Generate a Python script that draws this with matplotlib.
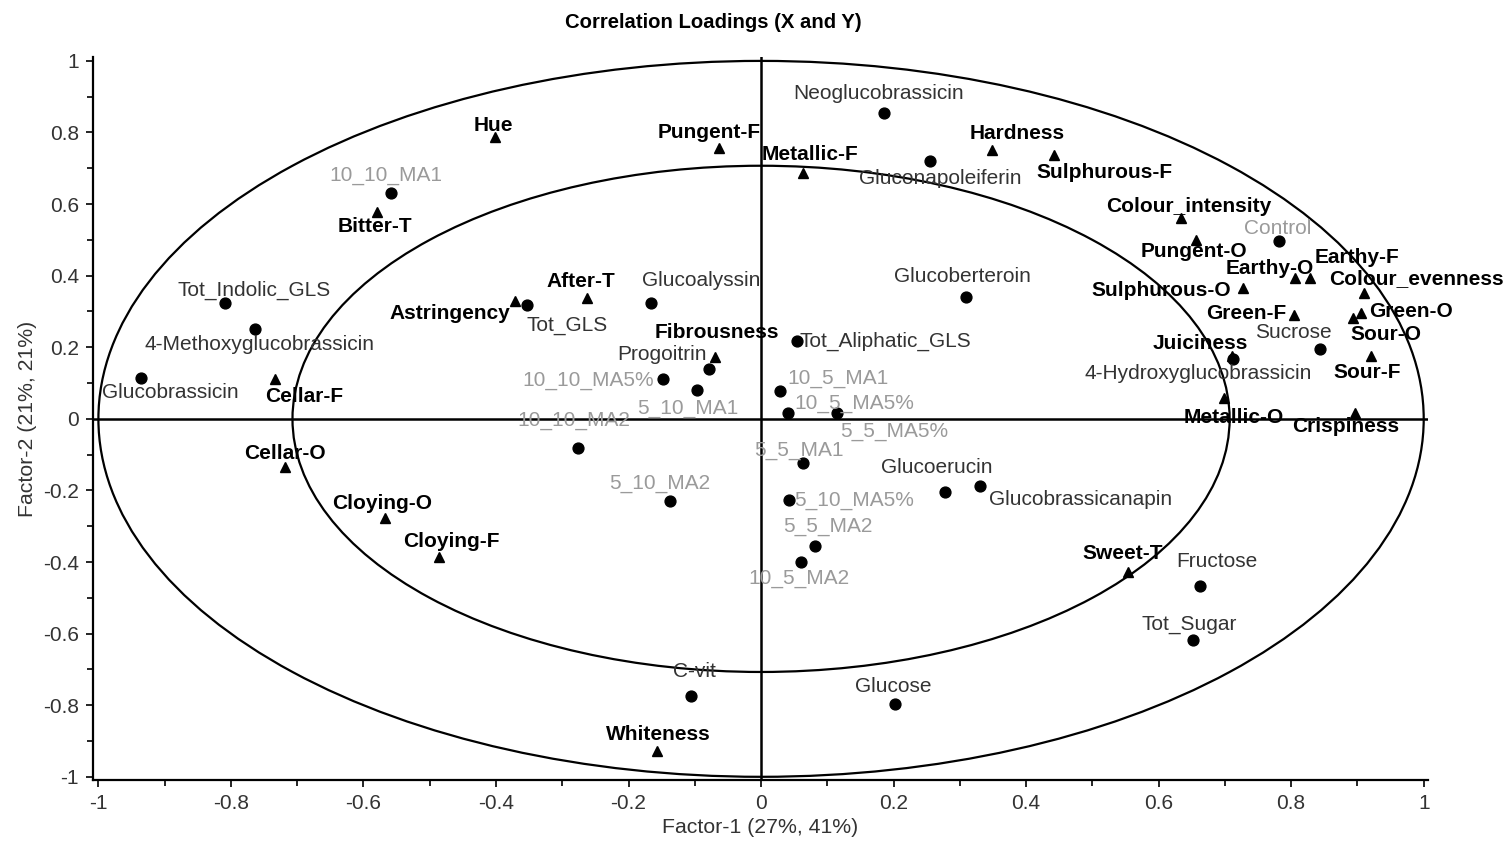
"""
Correlation loadings (X and Y): factor 1 vs factor 2.
"""

import matplotlib
matplotlib.use("Agg")
import matplotlib.pyplot as plt
from matplotlib.patches import Ellipse
from matplotlib.ticker import MultipleLocator, FuncFormatter
import numpy as np

plt.rcParams["font.family"] = ["Liberation Sans", "DejaVu Sans"]
plt.rcParams["axes.unicode_minus"] = False

# X variables (chemical) - circles
chem_names = [
    "Neoglucobrassicin", "Gluconapoleiferin", "Glucoberteroin", "Glucoalyssin",
    "Tot_GLS", "Tot_Indolic_GLS", "4-Methoxyglucobrassicin", "Glucobrassicin",
    "Progoitrin", "Tot_Aliphatic_GLS", "Glucoerucin", "Glucobrassicanapin",
    "C-vit", "Glucose", "Fructose", "Tot_Sugar", "Sucrose", "4-Hydroxyglucobrassicin",
]
chem_f1 = [0.185, 0.255, 0.309, -0.166, -0.353, -0.809, -0.764, -0.936,
           -0.078, 0.054, 0.277, 0.330, -0.105, 0.202, 0.662, 0.652, 0.843, 0.712]
chem_f2 = [0.855, 0.720, 0.340, 0.323, 0.318, 0.323, 0.250, 0.115,
           0.138, 0.218, -0.204, -0.188, -0.775, -0.797, -0.467, -0.618, 0.194, 0.167]

# samples - circles, grey labels
sample_names = [
    "10_10_MA1", "Control", "10_10_MA5%", "5_10_MA1", "10_10_MA2", "5_10_MA2",
    "10_5_MA1", "10_5_MA5%", "5_5_MA5%", "5_5_MA1", "5_10_MA5%", "5_5_MA2", "10_5_MA2",
]
sample_f1 = [-0.558, 0.782, -0.148, -0.097, -0.276, -0.138,
             0.029, 0.040, 0.114, 0.063, 0.042, 0.082, 0.061]
sample_f2 = [0.630, 0.497, 0.110, 0.082, -0.081, -0.230,
             0.079, 0.017, 0.017, -0.124, -0.227, -0.356, -0.399]

# Y variables (sensory) - triangles, bold labels
sens_names = [
    "Hue", "Bitter-T", "Cellar-F", "Astringency", "After-T", "Pungent-F",
    "Metallic-F", "Hardness", "Sulphurous-F", "Fibrousness", "Colour_intensity",
    "Pungent-O", "Earthy-O", "Earthy-F", "Colour_evenness", "Sulphurous-O",
    "Green-F", "Green-O", "Sour-O", "Sour-F", "Juiciness", "Metallic-O",
    "Crispiness", "Cellar-O", "Cloying-O", "Cloying-F", "Sweet-T", "Whiteness",
]
sens_f1 = [-0.402, -0.580, -0.734, -0.372, -0.262, -0.063,
           0.063, 0.348, 0.442, -0.069, 0.633,
           0.657, 0.806, 0.828, 0.910, 0.728,
           0.804, 0.905, 0.894, 0.921, 0.711, 0.698,
           0.897, -0.719, -0.567, -0.486, 0.553, -0.157]
sens_f2 = [0.787, 0.579, 0.110, 0.330, 0.337, 0.756,
           0.686, 0.751, 0.737, 0.174, 0.560,
           0.500, 0.393, 0.393, 0.352, 0.365,
           0.290, 0.297, 0.281, 0.176, 0.176, 0.057,
           0.017, -0.134, -0.278, -0.385, -0.427, -0.928]

# label offsets from the marker, in pixels (right, down)
label_offset = {
    "Neoglucobrassicin": (-5, -19), "Gluconapoleiferin": (10, 17),
    "Glucoberteroin": (-3, -21), "Glucoalyssin": (50, -23), "Tot_GLS": (40, 20),
    "Tot_Indolic_GLS": (29, -13), "4-Methoxyglucobrassicin": (5, 15),
    "Glucobrassicin": (30, 15), "Progoitrin": (-47, -15),
    "Tot_Aliphatic_GLS": (89, 1), "Glucoerucin": (-8, -24),
    "Glucobrassicanapin": (101, 13), "C-vit": (3, -25), "Glucose": (-2, -18),
    "Fructose": (17, -25), "Tot_Sugar": (-4, -16), "Sucrose": (-26, -17),
    "4-Hydroxyglucobrassicin": (-35, 14),
    "10_10_MA1": (-5, -18), "Control": (-2, -12), "10_10_MA5%": (-75, 1),
    "5_10_MA1": (-9, 19), "10_10_MA2": (-4, -27), "5_10_MA2": (-10, -18),
    "10_5_MA1": (58, -12), "10_5_MA5%": (67, -9), "5_5_MA5%": (58, 19),
    "5_5_MA1": (-4, -13), "5_10_MA5%": (65, 0), "5_5_MA2": (12, -20),
    "10_5_MA2": (-3, 17),
    "Hue": (-1, -12), "Bitter-T": (-2, 15), "Cellar-F": (30, 17),
    "Astringency": (-65, 13), "After-T": (-7, -17), "Pungent-F": (-10, -16),
    "Metallic-F": (7, -19), "Hardness": (26, -17), "Sulphurous-F": (51, 17),
    "Fibrousness": (2, -24), "Colour_intensity": (8, -12), "Pungent-O": (-2, 12),
    "Earthy-O": (-25, -10), "Earthy-F": (47, -21), "Colour_evenness": (52, -14),
    "Sulphurous-O": (-82, 2), "Green-F": (-48, -2), "Green-O": (50, -1),
    "Sour-O": (32, 16), "Sour-F": (-4, 17), "Juiciness": (-32, -12),
    "Metallic-O": (10, 19), "Crispiness": (-10, 14), "Cellar-O": (0, -13),
    "Cloying-O": (-3, -15), "Cloying-F": (12, -15), "Sweet-T": (-5, -18),
    "Whiteness": (1, -17),
}

inner_r = np.sqrt(0.5)
outer_r = 1.0

fig = plt.figure(figsize=(15.06, 8.43), dpi=100)
ax = fig.add_axes([0.0616, 0.0747, 0.8864, 0.8573])

for r in (outer_r, inner_r):
    ax.add_patch(Ellipse((0, 0), 2 * r, 2 * r, fill=False, lw=1.6, ec="black", zorder=1))
ax.axhline(0, color="black", lw=1.8, zorder=1)
ax.axvline(0, color="black", lw=1.8, zorder=1)


def draw_group(names, f1, f2, marker, ms, color, weight):
    ax.plot(f1, f2, ls="none", marker=marker, ms=ms, color="black", zorder=3)
    for n, xv, yv in zip(names, f1, f2):
        dx, dy = label_offset[n]
        ax.annotate(n, (xv, yv), xytext=(dx, -dy), textcoords="offset pixels",
                    ha="center", va="center", fontsize=15, color=color,
                    fontweight=weight, zorder=4)


draw_group(chem_names, chem_f1, chem_f2, "o", 7.8, "#333333", "normal")
draw_group(sample_names, sample_f1, sample_f2, "o", 7.8, "#9a9a9a", "normal")
draw_group(sens_names, sens_f1, sens_f2, "^", 7.5, "black", "bold")

ax.set_xlim(-1.0085, 1.006)
ax.set_ylim(-1.009, 1.010)
for s in ("top", "right"):
    ax.spines[s].set_visible(False)
for s in ("left", "bottom"):
    ax.spines[s].set_linewidth(1.6)

fmt = FuncFormatter(lambda v, p: f"{round(v, 6) + 0.0:g}")
for axis in (ax.xaxis, ax.yaxis):
    axis.set_major_locator(MultipleLocator(0.2))
    axis.set_minor_locator(MultipleLocator(0.1))
    axis.set_major_formatter(fmt)
ax.tick_params(which="major", length=5, width=1.2, labelsize=15, labelcolor="#333333", pad=5)
ax.tick_params(which="minor", length=4, width=1.2)

ax.set_xlabel("Factor-1 (27%, 41%)", fontsize=15.3, color="#333333", labelpad=4)
ax.set_ylabel("Factor-2 (21%, 21%)", fontsize=15.3, color="#333333", labelpad=4.5)
fig.text(0.4735, 0.973, "Correlation Loadings (X and Y)", ha="center", va="center",
         fontsize=14.6, fontweight="bold")

fig.savefig("out.png", dpi=100)
